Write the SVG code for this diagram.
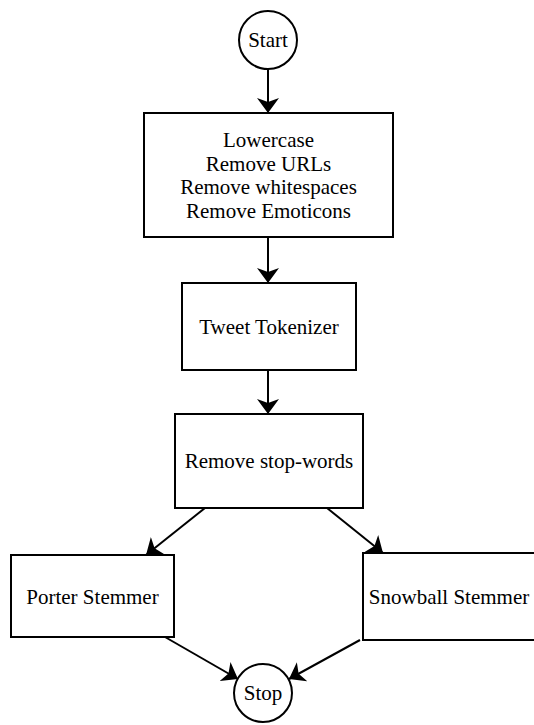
<svg xmlns="http://www.w3.org/2000/svg" width="534" height="725" viewBox="0 0 534 725">
  <style>
    .box { fill: #ffffff; stroke: #000000; stroke-width: 2; }
    .lbl { font-family: "Liberation Serif", "Times New Roman", serif; font-size: 21px; fill: #000000; text-anchor: middle; }
    .edge { fill: none; stroke: #000000; stroke-width: 2; marker-end: url(#arrow); }
  </style>
  <defs>
    <marker id="arrow" markerUnits="userSpaceOnUse" markerWidth="16" markerHeight="22" viewBox="0 0 16 22" refX="15" refY="11" orient="auto">
      <path d="M15,11 L0,0 L4,11 L0,22 Z" fill="#000000"/>
    </marker>
  </defs>
  <rect width="534" height="725" fill="#ffffff"/>

  <g id="connectors">
    <line class="edge" x1="268" y1="69" x2="268" y2="113"/>
    <line class="edge" x1="268" y1="237" x2="268" y2="283"/>
    <line class="edge" x1="268" y1="370" x2="268" y2="414"/>
    <line class="edge" x1="205" y1="508" x2="146" y2="555"/>
    <line class="edge" x1="327" y1="508" x2="383" y2="553"/>
    <line class="edge" x1="165" y1="637" x2="238" y2="679"/>
    <line class="edge" x1="360" y1="640" x2="289" y2="679"/>
  </g>

  <g id="start">
    <circle class="box" cx="268" cy="40" r="29"/>
    <text class="lbl" x="268" y="47">Start</text>
  </g>

  <g id="preprocess">
    <rect class="box" x="144" y="113" width="249" height="124"/>
    <text class="lbl" x="268.5" y="147">Lowercase</text>
    <text class="lbl" x="268.5" y="171">Remove URLs</text>
    <text class="lbl" x="268.5" y="194">Remove whitespaces</text>
    <text class="lbl" x="268.5" y="218">Remove Emoticons</text>
  </g>

  <g id="tokenizer">
    <rect class="box" x="182" y="283" width="174" height="87"/>
    <text class="lbl" x="269" y="334">Tweet Tokenizer</text>
  </g>

  <g id="stopwords">
    <rect class="box" x="175" y="414" width="188" height="94"/>
    <text class="lbl" x="269" y="468">Remove stop-words</text>
  </g>

  <g id="porter">
    <rect class="box" x="11" y="555" width="163" height="82"/>
    <text class="lbl" x="92.5" y="604">Porter Stemmer</text>
  </g>

  <g id="snowball">
    <rect class="box" x="363" y="553" width="174" height="87"/>
    <text class="lbl" x="449" y="604">Snowball Stemmer</text>
  </g>

  <g id="stop">
    <circle class="box" cx="263" cy="693" r="29"/>
    <text class="lbl" x="263" y="700">Stop</text>
  </g>
</svg>
